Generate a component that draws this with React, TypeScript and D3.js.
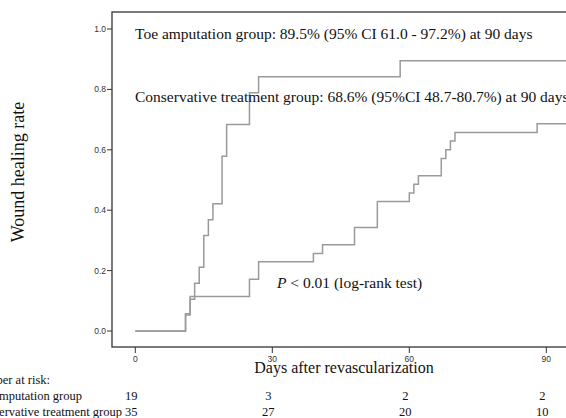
import React from 'react';
import * as d3 from 'd3';

// Kaplan-Meier steps
const toeDays = [0, 11, 12, 13, 14, 15, 16, 17, 19, 20, 25, 27, 58, 96];
const toeRate = [0, 0.053, 0.105, 0.158, 0.211, 0.316, 0.368, 0.421, 0.579, 0.684, 0.789, 0.842, 0.895, 0.895];

const consDays = [0, 11, 12, 25, 27, 39, 41, 48, 53, 60, 61, 62, 67, 68, 69, 70, 88, 96];
const consRate = [0, 0.057, 0.114, 0.171, 0.229, 0.257, 0.286, 0.343, 0.429, 0.457, 0.486, 0.514, 0.571, 0.6, 0.629, 0.657, 0.686, 0.686];

const xTicks = [0, 30, 60, 90];
const yTicks = [0, 0.2, 0.4, 0.6, 0.8, 1.0];

const riskDays = [0, 30, 60, 90];
const riskToe = [19, 3, 2, 2];
const riskCons = [35, 27, 20, 10];

const serif = '"Liberation Serif", "Times New Roman", serif';
const sans = '"Liberation Sans", Arial, sans-serif';

export default function App() {
  const width = 566;
  const height = 418;
  const frame = { left: 112, top: 12, right: 590, bottom: 347 };

  const x = d3.scaleLinear().domain([0, 90]).range([135.3, 546.3]);
  const y = d3.scaleLinear().domain([0, 1]).range([331, 29]);

  const line = d3.line<[number, number]>()
    .x(d => x(d[0]))
    .y(d => y(d[1]))
    .curve(d3.curveStepAfter);

  const toePath = line(toeDays.map((d, i) => [d, toeRate[i]]) as [number, number][]) || '';
  const consPath = line(consDays.map((d, i) => [d, consRate[i]]) as [number, number][]) || '';

  return (
    <svg width={width} height={height} style={{ position: 'absolute', left: 0, top: 0, background: '#fff' }}>
      {/* frame */}
      <rect x={frame.left} y={frame.top} width={frame.right - frame.left} height={frame.bottom - frame.top}
        fill="none" stroke="#333" strokeWidth={1.3} />

      {/* y axis ticks */}
      {yTicks.map(t => (
        <g key={t}>
          <line x1={frame.left - 5} x2={frame.left} y1={y(t)} y2={y(t)} stroke="#333" strokeWidth={1} />
          <text x={frame.left - 6} y={y(t)} dy="0.35em" textAnchor="end" fontFamily={sans} fontSize={8.5} fill="#333">
            {d3.format('.1f')(t)}
          </text>
        </g>
      ))}

      {/* x axis ticks */}
      {xTicks.map(t => (
        <g key={t}>
          <line x1={x(t)} x2={x(t)} y1={frame.bottom} y2={frame.bottom + 6} stroke="#333" strokeWidth={1} />
          <text x={x(t)} y={frame.bottom + 15} textAnchor="middle" fontFamily={sans} fontSize={8.5} fill="#333">
            {t}
          </text>
        </g>
      ))}

      {/* curves */}
      <path d={consPath} fill="none" stroke="#9a9a9a" strokeWidth={1.5} />
      <path d={toePath} fill="none" stroke="#9a9a9a" strokeWidth={1.5} />

      {/* annotations */}
      <text x={135} y={38.5} fontFamily={serif} fontSize={15.5} fill="#111">
        Toe amputation group: 89.5% (95% CI 61.0 - 97.2%) at 90 days
      </text>
      <text x={135} y={101.5} fontFamily={serif} fontSize={15.5} fill="#111">
        Conservative treatment group: 68.6% (95%CI 48.7-80.7%) at 90 days
      </text>
      <text x={277} y={288} fontFamily={serif} fontSize={15.5} fill="#111">
        <tspan fontStyle="italic">P</tspan> &lt; 0.01 (log-rank test)
      </text>

      {/* axis titles */}
      <text transform={`translate(24,${172}) rotate(-90)`} textAnchor="middle" fontFamily={serif} fontSize={18} fill="#111">
        Wound healing rate
      </text>
      <text x={344} y={373} textAnchor="middle" fontFamily={serif} fontSize={16} fill="#111">
        Days after revascularization
      </text>

      {/* number at risk */}
      <text x={50} y={384} textAnchor="end" fontFamily={serif} fontSize={12.5} fill="#111">Number at risk:</text>
      <text x={82} y={400} textAnchor="end" fontFamily={serif} fontSize={12.5} fill="#111">Toe amputation group</text>
      <text x={122} y={416} textAnchor="end" fontFamily={serif} fontSize={12.5} fill="#111">Conservative treatment group</text>
      {riskDays.map((d, i) => (
        <g key={d}>
          <text x={x(d) - 4} y={400} textAnchor="middle" fontFamily={serif} fontSize={12.5} fill="#111">{riskToe[i]}</text>
          <text x={x(d) - 4} y={416} textAnchor="middle" fontFamily={serif} fontSize={12.5} fill="#111">{riskCons[i]}</text>
        </g>
      ))}
    </svg>
  );
}
